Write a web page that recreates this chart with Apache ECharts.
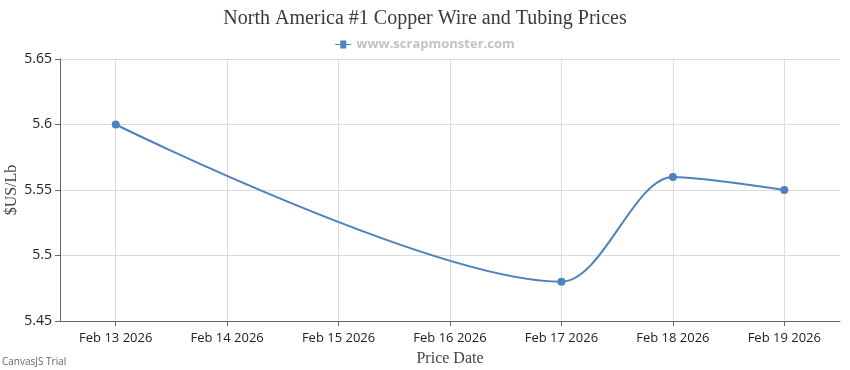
<!DOCTYPE html>
<html><head><meta charset="utf-8">
<script src="https://cdn.jsdelivr.net/npm/echarts@6/dist/echarts.min.js"></script>
<style>html,body{margin:0;padding:0;background:#fff}#c{width:850px;height:370px}</style>
</head><body><div id="c"></div>
<script>
var dates = ['2026-02-13', '2026-02-17', '2026-02-18', '2026-02-19'];
var prices = [5.60, 5.48, 5.56, 5.55];
var yTicks = [5.45, 5.5, 5.55, 5.6, 5.65];
var months = ['Jan','Feb','Mar','Apr','May','Jun','Jul','Aug','Sep','Oct','Nov','Dec'];

function ts(s){ var p = s.split('-'); return Date.UTC(+p[0], +p[1]-1, +p[2]); }
var seriesData = dates.map(function(d,i){ return [ts(d), prices[i]]; });
var DAY = 86400000, HALF = DAY/2;
var dayTicks = [0,1,2,3,4,5,6].map(function(k){return ts(dates[0])+k*DAY;});

var chart = echarts.init(document.getElementById('c'), null, {renderer:'canvas'});
chart.setOption({
  animation:false,
  backgroundColor:'#fff',
  title:{text:'North America #1 Copper Wire and Tubing Prices', left:'center', top:4,
    textStyle:{fontFamily:'Liberation Serif', fontSize:20, fontWeight:'normal', color:'#3a3a3a'}},
  legend:{top:33, left:'center', itemWidth:16, itemHeight:8, itemGap:6,
    icon:'path://M0,3.5L5,3.5L5,0L11,0L11,3.5L16,3.5L16,4.5L11,4.5L11,8L5,8L5,4.5L0,4.5Z',
    data:[{name:'www.scrapmonster.com'}],
    textStyle:{fontFamily:'Open Sans', fontSize:13, fontWeight:'bold', color:'#c2c2c2'}},
  grid:{left:60, right:10, top:59, bottom:49, containLabel:false, outerBoundsMode:'none'},
  xAxis:{type:'value', min:ts(dates[0])-HALF, max:ts(dates[3])+HALF, interval:DAY,
    name:'Price Date', nameLocation:'middle', nameGap:30,
    nameTextStyle:{fontFamily:'Liberation Serif', fontSize:16, color:'#444'},
    axisLine:{show:true, lineStyle:{color:'#666', width:1}},
    axisTick:{show:true, length:5, lineStyle:{color:'#666'}, customValues: dayTicks},
    splitLine:{show:true, lineStyle:{color:'#dcdcdc'}},
    axisLabel:{fontFamily:'Open Sans', fontSize:13, color:'#222', margin:11,
      customValues: dayTicks,
      formatter:function(v){ var d=new Date(v); return months[d.getUTCMonth()]+' '+d.getUTCDate()+' '+d.getUTCFullYear(); }}
  },
  yAxis:{type:'value', min:yTicks[0], max:yTicks[yTicks.length-1], interval:0.05,
    name:'$US/Lb', nameLocation:'middle', nameGap:40, nameRotate:90, nameMoveOverlap:false,
    nameTextStyle:{fontFamily:'Liberation Serif', fontSize:16, color:'#444'},
    axisLine:{show:true, lineStyle:{color:'#666'}},
    axisTick:{show:true, length:5, lineStyle:{color:'#666'}},
    splitLine:{show:true, lineStyle:{color:'#dcdcdc'}},
    axisLabel:{fontFamily:'Open Sans', fontSize:14, color:'#222', margin:8,
      formatter:function(v){ return String(+v.toFixed(2)); }}
  },
  series:[{name:'www.scrapmonster.com', type:'line', data:seriesData, smooth:0.3, smoothConstraint:false,
    symbol:'circle', symbolSize:8, showSymbol:true,
    lineStyle:{color:'#4F81BC', width:2}, itemStyle:{color:'#4F81BC'}}],
  graphic:[{type:'text', left:2, top:357, style:{text:'CanvasJS Trial', fontFamily:'Open Sans', fontSize:10, fill:'#666'}}]
});
</script></body></html>
